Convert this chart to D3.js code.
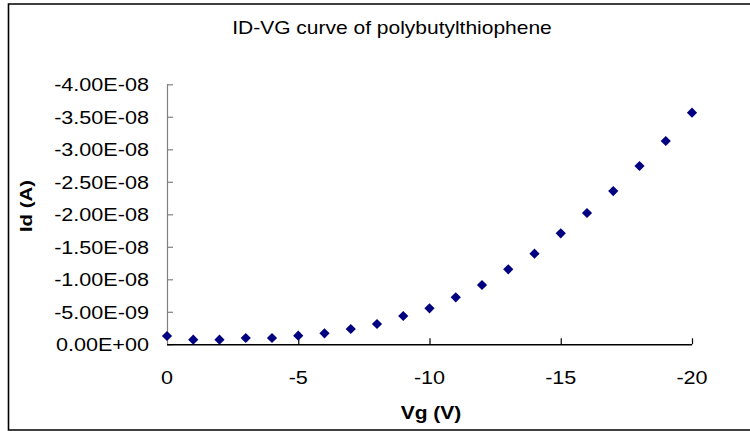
<!DOCTYPE html>
<html>
<head>
<meta charset="utf-8">
<script src="https://cdn.jsdelivr.net/npm/d3@7"></script>
<style>
html,body{margin:0;padding:0;background:#fff;}
svg{display:block;}
text{font-family:"Liberation Sans",Arial,sans-serif;}
</style>
</head>
<body>
<script>
const titleText = "ID-VG curve of polybutylthiophene";
const xTitle = "Vg (V)";
const yTitle = "Id (A)";
const vg = [0,-1,-2,-3,-4,-5,-6,-7,-8,-9,-10,-11,-12,-13,-14,-15,-16,-17,-18,-19,-20];
const id = [-1.28e-9,-0.71e-9,-0.71e-9,-0.97e-9,-0.97e-9,-1.32e-9,-1.69e-9,-2.35e-9,-3.12e-9,-4.35e-9,-5.54e-9,-7.23e-9,-9.12e-9,-11.54e-9,-13.94e-9,-17.08e-9,-20.2e-9,-23.58e-9,-27.43e-9,-31.28e-9,-35.63e-9];
const xTicks = [0,-5,-10,-15,-20];
const yTicks = [0,-5e-9,-1e-8,-1.5e-8,-2e-8,-2.5e-8,-3e-8,-3.5e-8,-4e-8];

const W = 750, H = 431;
const SX = 1.2; // horizontal glyph stretch
const svg = d3.select("body").append("svg").attr("width", W).attr("height", H);
svg.append("rect").attr("width", W).attr("height", H).attr("fill", "#fff");

// chart border (right edge cut off)
svg.append("path")
  .attr("d", `M${W+2},4 H8.5 V430 H${W+2}`)
  .attr("fill", "none").attr("stroke", "#000").attr("stroke-width", 1.6);

const x = d3.scaleLinear().domain([0, -20]).range([167, 692]);
const y = d3.scaleLinear().domain([0, -4e-8]).range([344.3, 84.3]);

function fmtE(v) {
  if (v === 0) return "0.00E+00";
  let s = v.toExponential(2).toUpperCase();
  return s.replace(/E([+-])(\d)$/, "E$10$2");
}

function stretchedText(sel, px, py, str, opts) {
  const g = sel.append("g").attr("transform", `translate(${px},${py})${opts.rotate ? " rotate(" + opts.rotate + ")" : ""}`);
  g.append("text")
    .attr("transform", `scale(${SX},1)`)
    .attr("text-anchor", opts.anchor || "middle")
    .attr("font-size", opts.size || 17)
    .attr("font-weight", opts.bold ? "bold" : "normal")
    .attr("fill", "#000")
    .text(str);
  return g;
}

// Y axis
const yAxis = d3.axisRight(y).tickValues(yTicks).tickSize(6).tickFormat("");
const gy = svg.append("g").attr("transform", `translate(${x(0)},0)`).call(yAxis);
gy.select(".domain").attr("stroke", "#808080").attr("stroke-width", 1.2).attr("d", `M0.5,${y(-4e-8)}V${y(0)}`);
gy.selectAll(".tick line").attr("stroke", "#808080").attr("stroke-width", 1.2);
yTicks.forEach(t => stretchedText(svg, 149, y(t) + 7, fmtE(t), {anchor: "end", size: 18}));

// X axis
const xAxis = d3.axisTop(x).tickValues(xTicks.filter(t => t !== 0)).tickSize(6).tickFormat("");
const gx = svg.append("g").attr("transform", `translate(0,${y(0)})`).call(xAxis);
gx.select(".domain").attr("stroke", "#000").attr("stroke-width", 1.4).attr("d", `M${x(0)},0.5H${x(-20)}`);
gx.selectAll(".tick line").attr("stroke", "#000").attr("stroke-width", 1.2);
xTicks.forEach(t => stretchedText(svg, x(t), 383.5, d3.format("d")(t).replace("−", "-"), {size: 18}));

// points (diamonds)
svg.append("g").selectAll("path").data(vg.map((v, i) => [v, id[i]])).join("path")
  .attr("d", d3.symbol().type(d3.symbolSquare).size(52))
  .attr("transform", d => `translate(${x(d[0])},${y(d[1])}) rotate(45)`)
  .attr("fill", "#000080");

// titles
stretchedText(svg, 392, 33.5, titleText, {size: 17.5});
stretchedText(svg, 431, 419, xTitle, {size: 17.5, bold: true});
stretchedText(svg, 32, 206, yTitle, {size: 17, bold: true, rotate: -90});
</script>
</body>
</html>
